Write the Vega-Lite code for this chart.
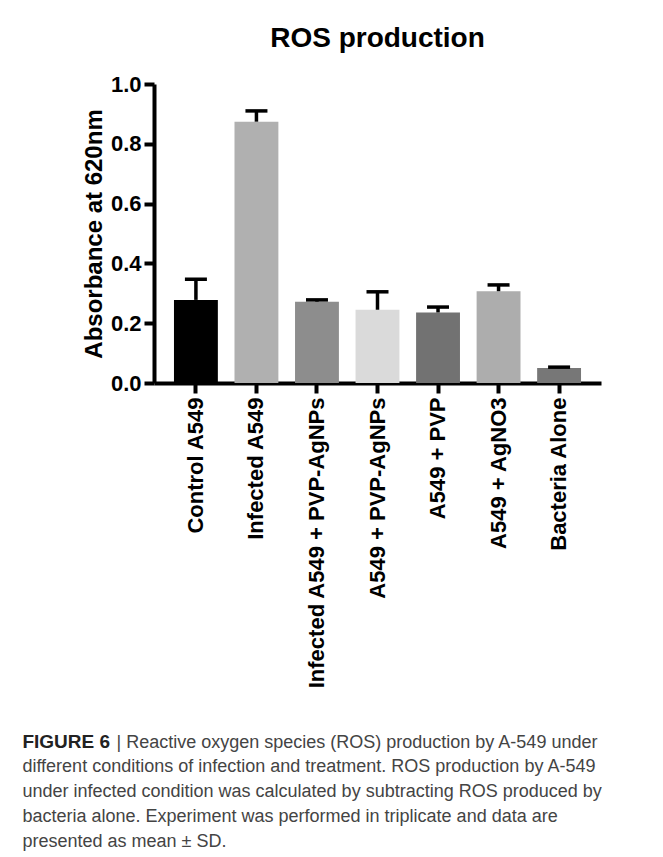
{
  "$schema": "https://vega.github.io/schema/vega-lite/v6.json",
  "padding": {"left": 22, "top": 25, "right": 5, "bottom": 5},
  "background": "white",
  "config": {"font": "Liberation Sans", "view": {"stroke": null}},
  "title": {
    "text": "FIGURE 6",
    "subtitle": [
      "different conditions of infection and treatment. ROS production by A-549",
      "under infected condition was calculated by subtracting ROS produced by",
      "bacteria alone. Experiment was performed in triplicate and data are",
      "presented as mean \u00b1 SD."
    ],
    "orient": "bottom",
    "anchor": "start",
    "frame": "bounds",
    "dx": -60,
    "offset": -18,
    "font": "Liberation Sans",
    "fontSize": 19,
    "fontWeight": "bold",
    "color": "#222222",
    "subtitleFont": "Liberation Sans",
    "subtitleFontSize": 18,
    "subtitleFontWeight": "normal",
    "subtitleColor": "#444444",
    "subtitleLineHeight": 25,
    "subtitlePadding": 6
  },
  "vconcat": [
    {
      "width": 447,
      "height": 299,
      "title": {
        "text": "ROS production",
        "fontSize": 28,
        "fontWeight": "bold",
        "anchor": "middle",
        "offset": 20,
        "color": "black"
      },
      "data": {
        "values": [
          {"group": "Control A549", "mean": 0.278, "upper": 0.347},
          {"group": "Infected A549", "mean": 0.874, "upper": 0.910},
          {"group": "Infected A549 + PVP-AgNPs", "mean": 0.272, "upper": 0.278},
          {"group": "A549 + PVP-AgNPs", "mean": 0.245, "upper": 0.305},
          {"group": "A549 + PVP", "mean": 0.236, "upper": 0.254},
          {"group": "A549 + AgNO3", "mean": 0.307, "upper": 0.328},
          {"group": "Bacteria Alone", "mean": 0.050, "upper": 0.053}
        ]
      },
      "encoding": {
        "x": {
          "field": "group",
          "type": "nominal",
          "sort": null,
          "scale": {"paddingInner": 0.275, "paddingOuter": 0.33},
          "axis": {
            "title": "| Reactive oxygen species (ROS) production by A-549 under",
            "titleFont": "Liberation Sans",
            "titleFontSize": 18,
            "titleFontWeight": "normal",
            "titleColor": "#444444",
            "titleAnchor": "start",
            "titleAlign": "left",
            "titleBaseline": "top",
            "titleX": -38,
            "titleY": 350,
            "labelAngle": -90,
            "labelFontSize": 22,
            "labelFontWeight": "bold",
            "labelColor": "black",
            "labelPadding": 4,
            "labelLimit": 500,
            "tickSize": 10,
            "tickWidth": 4,
            "tickColor": "black",
            "domainWidth": 4,
            "domainColor": "black"
          }
        }
      },
      "layer": [
        {
          "mark": {"type": "bar"},
          "encoding": {
            "y": {
              "field": "mean",
              "type": "quantitative",
              "scale": {"domain": [0, 1]},
              "axis": {
                "title": "Absorbance at 620nm",
                "values": [0, 0.2, 0.4, 0.6, 0.8, 1.0],
                "format": ".1f",
                "grid": false,
                "domainColor": "black",
                "domainWidth": 4,
                "tickColor": "black",
                "tickWidth": 4,
                "tickSize": 10,
                "labelFontSize": 22,
                "labelFontWeight": "bold",
                "labelColor": "black",
                "labelPadding": 3,
                "titleFontSize": 24,
                "titleFontWeight": "bold",
                "titleColor": "black",
                "titlePadding": 4
              }
            },
            "color": {
              "field": "group",
              "type": "nominal",
              "legend": null,
              "scale": {
                "domain": ["Control A549", "Infected A549", "Infected A549 + PVP-AgNPs", "A549 + PVP-AgNPs", "A549 + PVP", "A549 + AgNO3", "Bacteria Alone"],
                "range": ["#000000", "#b0b0b0", "#8d8d8d", "#dadada", "#727272", "#adadad", "#777777"]
              }
            }
          }
        },
        {
          "mark": {"type": "rule", "strokeWidth": 3.5, "color": "black"},
          "encoding": {
            "y": {"field": "mean", "type": "quantitative"},
            "y2": {"field": "upper"}
          }
        },
        {
          "mark": {"type": "tick", "thickness": 3.5, "size": 22, "color": "black", "opacity": 1},
          "encoding": {
            "y": {"field": "upper", "type": "quantitative"}
          }
        }
      ]
    }
  ]
}
